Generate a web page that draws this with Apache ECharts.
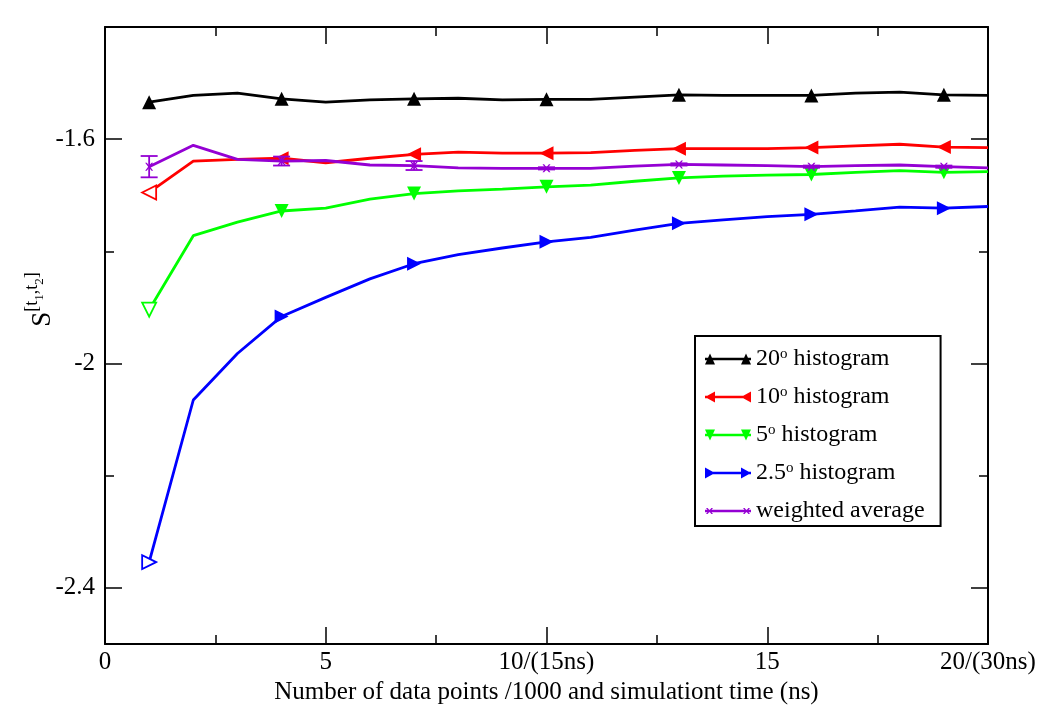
<!DOCTYPE html>
<html>
<head>
<meta charset="utf-8">
<script src="https://cdn.jsdelivr.net/npm/echarts@6/dist/echarts.min.js"></script>
<style>
html,body{margin:0;padding:0;background:#fff;}
#chart{width:1050px;height:719px;}
</style>
</head>
<body>
<div id="chart"></div>
<script>
// ---- data ----
const xPoints = [1,2,3,4,5,6,7,8,9,10,11,12,13,14,15,16,17,18,19,20];
const hist20 = [-1.534,-1.522,-1.518,-1.528,-1.534,-1.530,-1.528,-1.527,-1.530,-1.529,-1.529,-1.525,-1.521,-1.522,-1.522,-1.522,-1.518,-1.516,-1.521,-1.522];
const hist10 = [-1.695,-1.639,-1.636,-1.634,-1.642,-1.634,-1.627,-1.623,-1.625,-1.625,-1.624,-1.620,-1.617,-1.617,-1.617,-1.615,-1.612,-1.609,-1.614,-1.615];
const hist5 = [-1.904,-1.772,-1.748,-1.728,-1.723,-1.707,-1.697,-1.692,-1.689,-1.685,-1.682,-1.675,-1.669,-1.666,-1.664,-1.663,-1.659,-1.656,-1.659,-1.658];
const hist25 = [-2.354,-2.065,-1.982,-1.916,-1.882,-1.849,-1.822,-1.806,-1.794,-1.783,-1.775,-1.762,-1.750,-1.744,-1.738,-1.734,-1.728,-1.721,-1.723,-1.720];
const weighted = [-1.649,-1.611,-1.636,-1.639,-1.638,-1.646,-1.647,-1.651,-1.652,-1.652,-1.652,-1.648,-1.645,-1.646,-1.647,-1.649,-1.647,-1.646,-1.649,-1.651];
const markerX = [1,4,7,10,13,16,19];
const weightedErr = [0.019,0.008,0.008,0.002,0.002,0.002,0.002];
const seriesNames = ['20° histogram','10° histogram','5° histogram','2.5° histogram','weighted average'];
const xTickValues = [0,5,10,15,20];
const xTickLabels = ['0','5','10/(15ns)','15','20/(30ns)'];
const yMajorTicks = [-2.4,-2,-1.6];
const yMinorTicks = [-2.2,-1.8];
const xTitle = 'Number of data points /1000 and simulationt time (ns)';

// ---- styling ----
const FONT = 'Liberation Serif';
const colors = ['#000000','#ff0000','#00ff00','#0000ff','#9400d3'];
const xSym = 'path://M0,0L2,0L5,3.5L8,0L10,0L6.2,5L10,10L8,10L5,6.5L2,10L0,10L3.8,5Z';

const LINE = 'M0,5.7h46v2.6H0z ';
const legendIcons = [
  'path://' + LINE + 'M0,12.5L5,1.5L10,12.5z M36,12.5L41,1.5L46,12.5z',
  'path://' + LINE + 'M0,7L10,1.5L10,12.5z M36,7L46,1.5L46,12.5z',
  'path://' + LINE + 'M0,1.5L10,1.5L5,12.5z M36,1.5L46,1.5L41,12.5z',
  'path://' + LINE + 'M0,1.5L10,7L0,12.5z M36,1.5L46,7L36,12.5z',
  'path://' + LINE + 'M1,4L2.6,4L4.5,6.2L6.4,4L8,4L5.5,7L8,10L6.4,10L4.5,7.8L2.6,10L1,10L3.5,7z M38,4L39.6,4L41.5,6.2L43.4,4L45,4L42.5,7L45,10L43.4,10L41.5,7.8L39.6,10L38,10L40.5,7z'
];

function buildLineData(vals, hollowFirst, color) {
  return xPoints.map((x, i) => {
    const d = { value: [x, vals[i]] };
    if (markerX.indexOf(x) < 0) {
      d.symbolSize = 0;
    } else if (hollowFirst && i === 0) {
      d.itemStyle = { color: '#ffffff', borderColor: color, borderWidth: 1.8 };
    }
    return d;
  });
}

function lineSeries(idx, vals, symbol, rotate, size, hollowFirst) {
  return {
    name: seriesNames[idx],
    type: 'line',
    xAxisIndex: 0, yAxisIndex: 0,
    data: buildLineData(vals, hollowFirst, colors[idx]),
    symbol: symbol,
    symbolRotate: rotate,
    symbolSize: size,
    showAllSymbol: true,
    color: colors[idx],
    lineStyle: { color: colors[idx], width: 2.8 },
    itemStyle: { color: colors[idx] },
    emphasis: { disabled: true },
    animation: false,
    z: 3 + idx
  };
}

const errData = markerX.map((x, i) => [x, weighted[xPoints.indexOf(x)], weightedErr[i]]);

const chart = echarts.init(document.getElementById('chart'), null, { renderer: 'canvas' });

const axisLineStyle = { show: true, lineStyle: { color: '#000', width: 2 } };

const option = {
  backgroundColor: '#ffffff',
  animation: false,
  grid: { left: 105, right: 62, top: 27, bottom: 75, containLabel: false, outerBoundsMode: 'none' },
  legend: {
    orient: 'vertical',
    left: 695, top: 336,
    padding: [11, 16, 3, 10],
    itemGap: 14,
    itemWidth: 46, itemHeight: 14,
    itemTextGap: 7,
    borderColor: '#000', borderWidth: 2,
    backgroundColor: '#fff',
    selectedMode: false,
    data: seriesNames.map((n, i) => ({ name: n, icon: legendIcons[i] })),
    formatter: (name) => name.indexOf('°') >= 0 ? name.replace('°', '{sup|o}') : name,
    textStyle: {
      fontFamily: FONT, fontSize: 24, color: '#000', lineHeight: 24,
      rich: {
        sup: { fontFamily: FONT, fontSize: 15, color: '#000', verticalAlign: 'top', lineHeight: 15 }
      }
    }
  },
  xAxis: [
    {
      type: 'value', position: 'bottom', min: 0, max: 20, interval: 5,
      axisLine: axisLineStyle,
      axisTick: { show: true, inside: true, length: 17, lineStyle: { color: '#000', width: 1.5 } },
      minorTick: { show: true, splitNumber: 2, length: 9, lineStyle: { color: '#000', width: 1.5 } },
      splitLine: { show: false },
      axisLabel: {
        show: true, margin: 6, fontFamily: FONT, fontSize: 25, color: '#000',
        showMinLabel: true, showMaxLabel: true,
        formatter: (v) => { const k = xTickValues.indexOf(v); return k >= 0 ? xTickLabels[k] : ''; }
      },
      name: xTitle, nameLocation: 'middle', nameGap: 36, nameMoveOverlap: false,
      nameTextStyle: { fontFamily: FONT, fontSize: 25, color: '#000' }
    },
    {
      type: 'value', position: 'top', min: 0, max: 20, interval: 5,
      axisLine: axisLineStyle,
      axisTick: { show: true, inside: true, length: 17, lineStyle: { color: '#000', width: 1.5 } },
      minorTick: { show: true, splitNumber: 2, length: 9, lineStyle: { color: '#000', width: 1.5 } },
      splitLine: { show: false },
      axisLabel: { show: false }
    }
  ],
  yAxis: [
    {
      type: 'value', position: 'left', min: -2.5, max: -1.4,
      axisLine: axisLineStyle,
      axisTick: { show: true, inside: true, length: 17, customValues: yMajorTicks, lineStyle: { color: '#000', width: 1.5 } },
      splitLine: { show: false },
      axisLabel: { show: true, customValues: yMajorTicks, margin: 10, fontFamily: FONT, fontSize: 25, color: '#000',
        formatter: (v) => String(+v.toFixed(2)) },
      name: 'S{sup|[t}{sub|1}{sup|,t}{sub|2}{sup|]}',
      nameLocation: 'middle', nameGap: 62, nameRotate: 90, nameMoveOverlap: false,
      nameTextStyle: {
        fontFamily: FONT, fontSize: 27, color: '#000', lineHeight: 40, verticalAlign: 'middle',
        padding: [0, 0, 0, 72],
        rich: {
          sup: { fontFamily: FONT, fontSize: 18, color: '#000', verticalAlign: 'top', lineHeight: 20 },
          sub: { fontFamily: FONT, fontSize: 13, color: '#000', verticalAlign: 'top', lineHeight: 16, padding: [10, 0, 0, 0] }
        }
      }
    },
    {
      type: 'value', position: 'left', min: -2.5, max: -1.4,
      axisLine: { show: false },
      axisTick: { show: true, inside: true, length: 9, customValues: yMinorTicks, lineStyle: { color: '#000', width: 1.5 } },
      splitLine: { show: false },
      axisLabel: { show: false }
    },
    {
      type: 'value', position: 'right', min: -2.5, max: -1.4,
      axisLine: axisLineStyle,
      axisTick: { show: true, inside: true, length: 17, customValues: yMajorTicks, lineStyle: { color: '#000', width: 1.5 } },
      splitLine: { show: false },
      axisLabel: { show: false }
    },
    {
      type: 'value', position: 'right', min: -2.5, max: -1.4,
      axisLine: { show: false },
      axisTick: { show: true, inside: true, length: 9, customValues: yMinorTicks, lineStyle: { color: '#000', width: 1.5 } },
      splitLine: { show: false },
      axisLabel: { show: false }
    }
  ],
  series: [
    lineSeries(0, hist20, 'triangle', 0, 14, false),
    lineSeries(1, hist10, 'triangle', 90, 14, true),
    lineSeries(2, hist5, 'triangle', 180, 14, true),
    lineSeries(3, hist25, 'triangle', -90, 14, true),
    lineSeries(4, weighted, xSym, 0, 8, false),
    {
      type: 'custom',
      name: 'weighted average error',
      xAxisIndex: 0, yAxisIndex: 0,
      data: errData,
      encode: { x: 0, y: 1 },
      z: 10,
      silent: true,
      renderItem: function (params, api) {
        const x = api.value(0), y = api.value(1), e = api.value(2);
        const top = api.coord([x, y + e]);
        const bot = api.coord([x, y - e]);
        const hw = 8.5;
        const style = { stroke: colors[4], lineWidth: 1.8 };
        return {
          type: 'group',
          children: [
            { type: 'line', shape: { x1: top[0], y1: top[1], x2: bot[0], y2: bot[1] }, style: style },
            { type: 'line', shape: { x1: top[0] - hw, y1: top[1], x2: top[0] + hw, y2: top[1] }, style: style },
            { type: 'line', shape: { x1: bot[0] - hw, y1: bot[1], x2: bot[0] + hw, y2: bot[1] }, style: style }
          ]
        };
      }
    }
  ]
};
chart.setOption(option);
</script>
</body>
</html>
